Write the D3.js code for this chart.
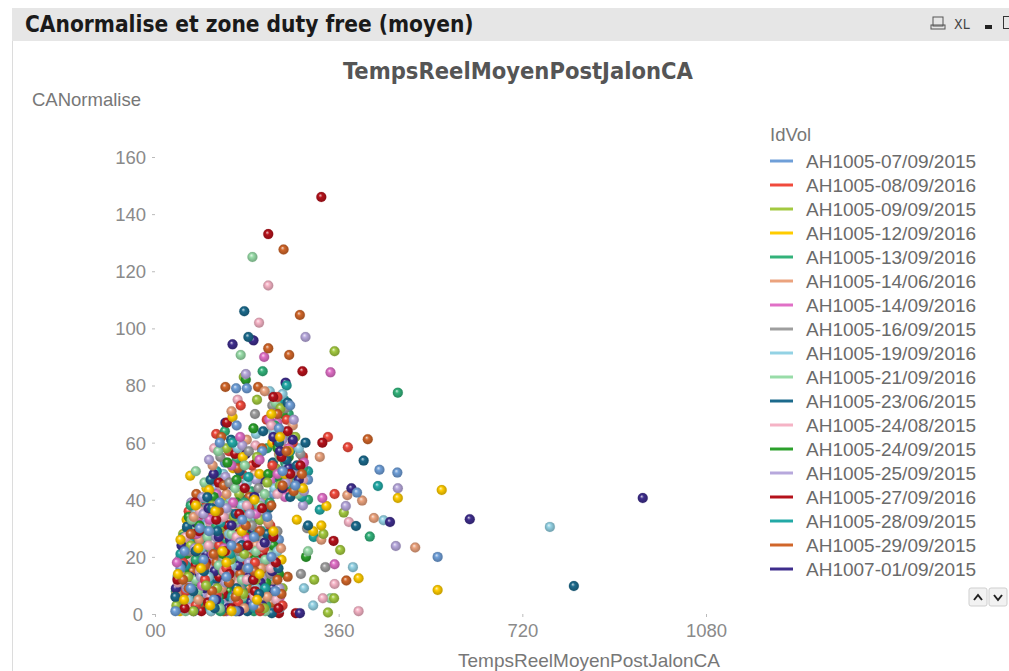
<!DOCTYPE html>
<html><head><meta charset="utf-8">
<script src="https://cdn.jsdelivr.net/npm/d3@7/dist/d3.min.js"></script>
<style>
html,body{margin:0;padding:0;background:#fff;}
svg{display:block;}
</style></head>
<body>
<svg id="chart" width="1009" height="671"></svg>
<script>
// ---- data ----
const panelTitle = "CAnormalise et zone duty free (moyen)";
const chartTitle = "TempsReelMoyenPostJalonCA";
const xAxisTitle = "TempsReelMoyenPostJalonCA";
const yAxisTitle = "CANormalise";
const legendTitle = "IdVol";
const categories = ["AH1005-07/09/2015","AH1005-08/09/2016","AH1005-09/09/2015","AH1005-12/09/2016","AH1005-13/09/2016","AH1005-14/06/2016","AH1005-14/09/2016","AH1005-16/09/2015","AH1005-19/09/2016","AH1005-21/09/2016","AH1005-23/06/2015","AH1005-24/08/2015","AH1005-24/09/2015","AH1005-25/09/2015","AH1005-27/09/2016","AH1005-28/09/2015","AH1005-29/09/2015","AH1007-01/09/2015"];
const colors = ["#6f9fd8","#f04a3c","#a3c940","#ffcc00","#33b27a","#eba37e","#e070c6","#9e9e9e","#93d2e4","#98dca8","#1c6a8c","#f5b3c5","#2ca02c","#b7a8dc","#b5121b","#22a9a6","#d0662a","#3e2d8c"];
const yTicks = [0,20,40,60,80,100,120,140,160];
const xTicks = [0,360,720,1080];
const xTickLabels = ["00","360","720","1080"];

// [TempsReelMoyenPostJalonCA, CANormalise] per IdVol
const s1 = [[52,3],[88,6],[131,2],[175,8],[214,4],[61,12],[109,15],[152,18],[198,11],[77,24],[124,27],[166,22],[243,26],[96,33],[141,36],[205,38],[118,44],[182,47],[232,42],[137,53],[210,57],[127,60],[160,66],[159,79],[180,79],[440,50.5],[475,49.5],[396,42.5],[554,20],[270,49],[300,47],
  [40,1],[70,9],[115,5],[158,1],[193,3],[236,8],[50,16],[95,19],[140,13],[183,16],[228,20],[58,22],[106,29],[150,24],[194,27],[88,30],[127,39],[171,33],[220,34],[250,50],[275,45],[243,65],[265,73]];
const s2 = [[45,5],[99,2],[142,9],[186,3],[232,7],[70,14],[118,19],[171,13],[221,17],[91,26],[147,21],[196,29],[66,36],[160,33],[226,31],[103,45],[171,49],[249,46],[145,57],[190,52],[120,63],[219,68],[168,73],[378,58.4],[339,62],[352,42],[97,37.2],[290,55],
  [60,8],[80,3],[121,7],[163,4],[206,1],[250,3],[55,18],[98,12],[140,16],[196,18],[76,28],[126,24],[176,27],[214,23],[110,34],[185,37],[262,42],[285,47],[230,52],[270,60],[258,68],[240,76]];
const s3 = [[58,8],[113,4],[160,1],[205,6],[250,9],[84,17],[133,12],[180,16],[229,14],[55,28],[109,23],[157,29],[209,24],[88,39],[134,31],[182,37],[113,48],[165,42],[237,51],[140,58],[200,55],[174,83],[352,92],[370,35.5],[363,22.4],[351,5.5],[339,0.5],[312,12],[330,28],
  [42,3],[75,1],[122,9],[173,7],[214,2],[65,13],[100,10],[148,19],[197,12],[70,24],[125,28],[175,21],[225,27],[112,38],[155,34],[206,33],[245,45],[268,49],[220,46],[275,62],[246,72],[200,75]];
const s4 = [[49,1],[93,9],[137,5],[184,10],[228,2],[76,19],[126,15],[174,11],[248,19],[102,29],[150,25],[191,21],[62,33],[130,40],[176,35],[215,39],[101,44],[153,51],[205,49],[172,55],[230,60],[152,69],[69,48.4],[106,43.4],[562,43.4],[476,40.6],[336,37.8],[310,29],[326,31],[399,12.5],[554,8.4],[278,33],
  [57,5],[108,3],[150,1],[163,8],[200,5],[45,14],[90,16],[140,18],[205,14],[50,26],[85,23],[132,22],[170,29],[232,29],[118,36],[195,40],[80,38],[255,49],[290,44],[262,57],[245,62],[228,70]];
const s5 = [[56,2],[104,7],[148,4],[194,1],[239,5],[64,16],[115,11],[162,19],[212,15],[84,21],[138,26],[186,28],[236,22],[105,35],[150,38],[196,32],[126,47],[188,43],[160,54],[220,58],[137,64],[211,85],[476,77.5],[421,27.1],[300,40],
  [41,8],[85,4],[128,1],[171,8],[218,3],[80,19],[133,15],[183,12],[230,17],[56,27],[101,24],[160,23],[208,29],[70,38],[120,31],[175,39],[225,39],[255,53],[270,44],[290,51],[235,66],[262,70]];
const s6 = [[63,6],[110,1],[153,7],[199,9],[244,3],[80,11],[129,18],[177,14],[231,12],[70,22],[118,29],[171,24],[219,27],[95,38],[144,33],[199,36],[140,42],[195,49],[113,52],[180,61],[243,56],[150,71],[377,41.6],[406,39.7],[429,33.6],[510,23.3],[323,55],[326,26],
  [42,7],[85,5],[131,9],[175,2],[220,6],[53,13],[98,17],[148,12],[208,16],[87,26],[140,22],[198,24],[247,23],[76,34],[122,38],[170,34],[222,32],[260,47],[280,52],[250,58],[270,66],[215,78]];
const s7 = [[50,9],[97,5],[140,1],[182,6],[225,9],[74,13],[121,16],[164,12],[207,19],[61,25],[113,21],[156,27],[201,23],[85,34],[129,37],[175,31],[121,42],[170,45],[228,47],[150,52],[205,54],[167,62],[240,67],[214,90],[344,84.6],[352,17.4],[328,40.6],[286,50],
  [65,2],[118,3],[160,8],[203,3],[245,6],[92,10],[143,17],[186,14],[230,15],[43,18],[82,28],[135,23],[180,26],[226,28],[107,33],[153,39],[198,35],[255,41],[240,49],[292,53],[262,58],[224,68]];
const s8 = [[54,4],[100,8],[145,3],[189,7],[236,1],[67,18],[111,13],[157,17],[206,12],[92,22],[140,28],[187,25],[240,29],[77,37],[123,34],[169,39],[210,35],[146,46],[203,44],[128,55],[184,57],[196,70],[230,73],[334,16.4],[286,14],[298,30],
  [44,9],[78,2],[122,6],[167,9],[212,5],[50,14],[90,12],[133,19],[180,16],[226,14],[68,22],[115,25],[165,22],[213,26],[100,37],[145,35],[190,31],[268,47],[248,50],[285,56],[238,62],[255,72]];
const s9 = [[47,7],[89,3],[133,8],[177,2],[221,6],[86,15],[129,11],[175,18],[223,13],[68,27],[121,24],[169,20],[215,29],[102,31],[147,39],[190,34],[134,49],[180,46],[234,44],[162,58],[198,63],[225,78],[448,32.8],[774,30.5],[388,16.4],[292,9],[310,3],
  [66,5],[110,1],[155,5],[198,9],[245,2],[44,13],[105,13],[150,17],[200,18],[90,23],[145,28],[192,23],[240,22],[80,35],[125,33],[170,38],[248,43],[276,48],[260,52],[282,58],[232,64],[250,77]];
const s10 = [[60,1],[106,5],[150,9],[196,4],[241,8],[58,14],[103,19],[149,14],[194,16],[79,29],[127,22],[174,26],[224,21],[90,36],[137,38],[180,33],[97,46],[157,44],[215,42],[124,57],[176,52],[233,63],[191,125],[168,90.7],[344,5.5],[300,22],[80,50],
  [45,4],[84,8],[127,2],[171,6],[216,1],[80,12],[125,17],[170,12],[216,19],[60,23],[103,27],[150,28],[198,22],[72,33],[115,35],[160,33],[205,38],[262,49],[280,42],[245,55],[268,62],[236,74]];
const s11 = [[53,10],[95,4],[139,6],[181,1],[226,4],[72,16],[119,12],[166,15],[216,18],[98,25],[144,23],[194,26],[63,30],[135,35],[179,40],[223,37],[109,47],[166,50],[231,53],[149,61],[212,64],[175,106],[183,97],[63,30.6],[102.5,40.9],[409,53.7],[394,30.8],[821,9.8],[229,0.3],[300,31],
  [40,6],[75,8],[117,2],[160,9],[204,7],[52,17],[96,15],[145,11],[192,12],[242,16],[80,22],[122,29],[170,24],[220,28],[112,37],[158,35],[265,41],[258,54],[278,52],[243,60],[260,74],[295,60]];
const s12 = [[44,3],[87,8],[130,4],[173,9],[218,2],[65,19],[112,17],[159,11],[204,14],[83,23],[135,29],[183,22],[232,28],[108,32],[155,36],[200,31],[128,45],[187,41],[116,58],[197,59],[162,75],[222,115],[204,102],[59.4,26.3],[380,32.2],[352,10.5],[329,5.5],[399,1],
  [68,2],[109,6],[152,2],[195,6],[238,5],[45,11],[88,15],[135,15],[180,12],[227,16],[60,27],[105,24],[160,27],[208,24],[88,36],[134,34],[180,38],[240,42],[270,50],[290,47],[255,64],[228,66]];
const s13 = [[57,6],[102,3],[146,8],[191,5],[234,10],[76,12],[123,14],[170,19],[218,11],[62,21],[110,27],[158,24],[208,28],[87,31],[132,33],[185,38],[115,41],[160,47],[222,49],[142,53],[193,65],[178,82],[280,46],[296,20],
  [44,2],[80,9],[125,6],[168,3],[213,8],[57,15],[100,13],[148,17],[195,19],[243,14],[85,25],[133,21],[182,27],[232,24],[66,34],[110,36],[160,39],[205,33],[245,48],[275,45],[262,55],[240,58],[250,70]];
const s14 = [[51,2],[94,7],[136,3],[180,8],[223,1],[69,11],[115,18],[160,16],[210,13],[95,28],[141,20],[190,24],[71,39],[117,36],[163,32],[207,39],[138,48],[198,47],[106,54],[171,59],[250,62],[178,84],[295,97],[92.7,40.9],[476,44],[374,37.8],[472,23.8],[290,38],
  [62,9],[115,9],[158,5],[202,3],[244,9],[48,19],[90,13],[138,11],[184,18],[232,19],[78,23],[120,27],[166,25],[218,25],[95,35],[140,37],[186,35],[256,46],[272,51],[292,43],[250,61],[272,68]];
const s15 = [[46,4],[91,1],[134,7],[179,5],[222,8],[79,17],[126,13],[172,18],[214,16],[67,23],[114,26],[163,28],[211,21],[93,35],[143,31],[188,39],[125,46],[176,44],[157,56],[199,53],[141,67],[222,133],[326,146],[289,85],[328,60],[350,25.6],[243,0.3],[276,0.3],[240,60],[260,70],
  [58,2],[104,4],[150,2],[196,8],[242,2],[44,12],[100,18],[146,14],[193,12],[237,18],[86,29],[137,22],[182,24],[232,27],[78,39],[120,33],[165,35],[210,37],[248,55],[265,49],[285,52],[260,64],[232,76]];
const s16 = [[59,9],[108,2],[151,6],[195,2],[240,7],[82,14],[127,17],[174,11],[226,19],[72,25],[125,23],[177,27],[227,25],[101,39],[149,35],[194,37],[121,50],[183,48],[245,47],[152,60],[231,65],[258,80],[437,44.8],[323,36.5],[311,27],[300,50],
  [43,2],[84,6],[126,4],[170,5],[216,9],[60,17],[104,11],[150,19],[200,14],[50,21],[98,29],[148,21],[200,28],[85,37],[128,32],[175,37],[288,41],[252,44],[275,46],[265,57],[240,62],[253,75]];
const s17 = [[48,6],[92,4],[135,1],[183,9],[229,4],[73,15],[120,18],[167,14],[219,16],[89,23],[139,28],[186,20],[106,33],[152,37],[213,34],[81,42],[135,45],[185,41],[162,51],[210,58],[130,62],[138,79.5],[202,79.5],[252,127.6],[284,104.7],[222,93],[263,90.7],[417,61.2],[375,11.7],[260,13],[270,42],
  [66,9],[112,8],[158,6],[205,2],[248,7],[55,12],[98,17],[145,11],[195,15],[240,12],[70,28],[115,21],[162,23],[205,29],[125,36],[178,31],[228,38],[250,45],[272,43],[288,49],[258,57],[240,70]];
const s18 = [[55,5],[97,9],[143,2],[187,4],[230,9],[68,13],[117,15],[163,17],[207,11],[101,21],[147,26],[192,29],[80,32],[128,38],[173,33],[152,45],[207,47],[115,49],[178,56],[138,67],[256,81],[193,95.8],[152,94.4],[385,44],[460.6,32.2],[617,33.2],[956,40.6],[284,0.3],
  [41,9],[76,1],[120,5],[165,1],[210,3],[88,14],[138,12],[185,13],[230,15],[52,24],[80,22],[125,27],[170,24],[215,25],[105,37],[150,31],[195,41],[250,44],[262,51],[282,47],[270,61],[232,62],[245,57]];
const seriesValues = [s1,s2,s3,s4,s5,s6,s7,s8,s9,s10,s11,s12,s13,s14,s15,s16,s17,s18];

// ---- layout ----
const svg = d3.select("#chart");
const W = 1009, H = 671;
const x = d3.scaleLinear().domain([0,1080]).range([155,706]);
const y = d3.scaleLinear().domain([0,160]).range([614,157]);

// panel
svg.append("rect").attr("x",12).attr("y",8).attr("width",W-12).attr("height",33).attr("fill","#e6e6e6");
svg.append("line").attr("x1",12.5).attr("x2",12.5).attr("y1",41).attr("y2",H).attr("stroke","#dcdcdc");
svg.append("text").attr("x",25).attr("y",32).text(panelTitle)
  .attr("font-family","'DejaVu Sans Condensed','DejaVu Sans',sans-serif").attr("font-weight","bold")
  .attr("font-size",22.5).attr("fill","#1a1a1a");
// caption icons
const ic = svg.append("g").attr("fill","#444").attr("font-family","'DejaVu Sans Condensed',sans-serif");
ic.append("rect").attr("x",933).attr("y",17).attr("width",10).attr("height",9).attr("fill","none").attr("stroke","#555");
ic.append("rect").attr("x",931).attr("y",25).attr("width",14).attr("height",4).attr("fill","none").attr("stroke","#555");
ic.append("text").attr("x",954).attr("y",29).attr("font-size",14).text("XL");
ic.append("rect").attr("x",985).attr("y",25).attr("width",7).attr("height",4).attr("fill","#222");
ic.append("rect").attr("x",1003.5).attr("y",16.5).attr("width",9).attr("height",12).attr("fill","none").attr("stroke","#333");

// chart title
svg.append("text").attr("x",518).attr("y",79).attr("text-anchor","middle").text(chartTitle)
  .attr("font-family","'DejaVu Sans Condensed','DejaVu Sans',sans-serif").attr("font-weight","bold")
  .attr("font-size",23.5).attr("fill","#555");

const lab = {"font-family":"'Liberation Sans',Arial,sans-serif","fill":"#777"};
function applyLab(sel,size){ sel.attr("font-family",lab["font-family"]).attr("fill",lab.fill).attr("font-size",size); return sel; }

applyLab(svg.append("text").attr("x",32).attr("y",106).text(yAxisTitle),18.5);
applyLab(svg.append("text").attr("x",589).attr("y",667).attr("text-anchor","middle").text(xAxisTitle),19);

// axes
const yAxis = svg.append("g").attr("transform","translate(155,0)")
  .call(d3.axisLeft(y).tickValues(yTicks).tickSize(3).tickPadding(6).tickFormat(d3.format("d")));
yAxis.select(".domain").remove();
yAxis.selectAll(".tick line").attr("stroke","#bbb");
yAxis.selectAll(".tick text").attr("font-family",lab["font-family"]).attr("fill","#8a8a8a").attr("font-size",18.5)
  .attr("dy","0.35em");
yAxis.selectAll(".tick").filter(d=>d===0).select("text").attr("dx",-3);

const xAxis = svg.append("g").attr("transform","translate(0,614)")
  .call(d3.axisBottom(x).tickValues(xTicks).tickSize(3).tickPadding(7).tickFormat((d,i)=>xTickLabels[i]));
xAxis.select(".domain").remove();
xAxis.selectAll(".tick line").attr("stroke","#bbb");
xAxis.selectAll(".tick text").attr("font-family",lab["font-family"]).attr("fill","#8a8a8a").attr("font-size",18.5);

// gradients for spheres
const defs = svg.append("defs");
colors.forEach((c,i)=>{
  const g = defs.append("radialGradient").attr("id","g"+i).attr("cx","50%").attr("cy","50%").attr("r","55%").attr("fx","38%").attr("fy","32%");
  g.append("stop").attr("offset","0%").attr("stop-color",d3.interpolateRgb(c,"#ffffff")(0.75));
  g.append("stop").attr("offset","35%").attr("stop-color",c);
  g.append("stop").attr("offset","100%").attr("stop-color",d3.color(c).darker(0.9).formatHex());
});

// interleave points so no single series sits entirely on top
const pts = [];
const maxLen = d3.max(seriesValues, s=>s.length);
for(let k=0;k<maxLen;k++) seriesValues.forEach((s,i)=>{ if(k<s.length) pts.push({x:s[k][0],y:s[k][1],i}); });

svg.append("g").selectAll("circle").data(pts).join("circle")
  .attr("cx",d=>x(d.x)).attr("cy",d=>y(d.y)).attr("r",5)
  .attr("fill",d=>`url(#g${d.i})`)
  .attr("stroke",d=>d3.color(colors[d.i]).darker(0.4).copy({opacity:0.35}))
  .attr("stroke-width",0.6);

// legend
const lg = svg.append("g");
applyLab(lg.append("text").attr("x",770).attr("y",141).text(legendTitle),18.5);
const rows = lg.selectAll("g.row").data(categories).join("g").attr("class","row")
  .attr("transform",(d,i)=>`translate(0,${161+i*24})`);
rows.append("line").attr("x1",770).attr("x2",793).attr("y1",0).attr("y2",0)
  .attr("stroke",(d,i)=>colors[i]).attr("stroke-width",3);
rows.append("text").attr("x",806).attr("y",0).attr("dy","0.35em").text(d=>d)
  .attr("font-family",lab["font-family"]).attr("fill","#6a6a6a").attr("font-size",19);

// scroll buttons
const sb = svg.append("g");
[[969,"^"],[989,"v"]].forEach(([bx,t],j)=>{
  sb.append("rect").attr("x",bx).attr("y",588).attr("width",18).attr("height",18).attr("rx",2)
    .attr("fill","#f2f2f2").attr("stroke","#cfcfcf");
  const cx = bx+9;
  const p = j===0 ? `M${cx-4},${600} L${cx},${595} L${cx+4},${600}` : `M${cx-4},${595} L${cx},${600} L${cx+4},${595}`;
  sb.append("path").attr("d",p).attr("fill","none").attr("stroke","#222").attr("stroke-width",2);
});
</script>
</body></html>
